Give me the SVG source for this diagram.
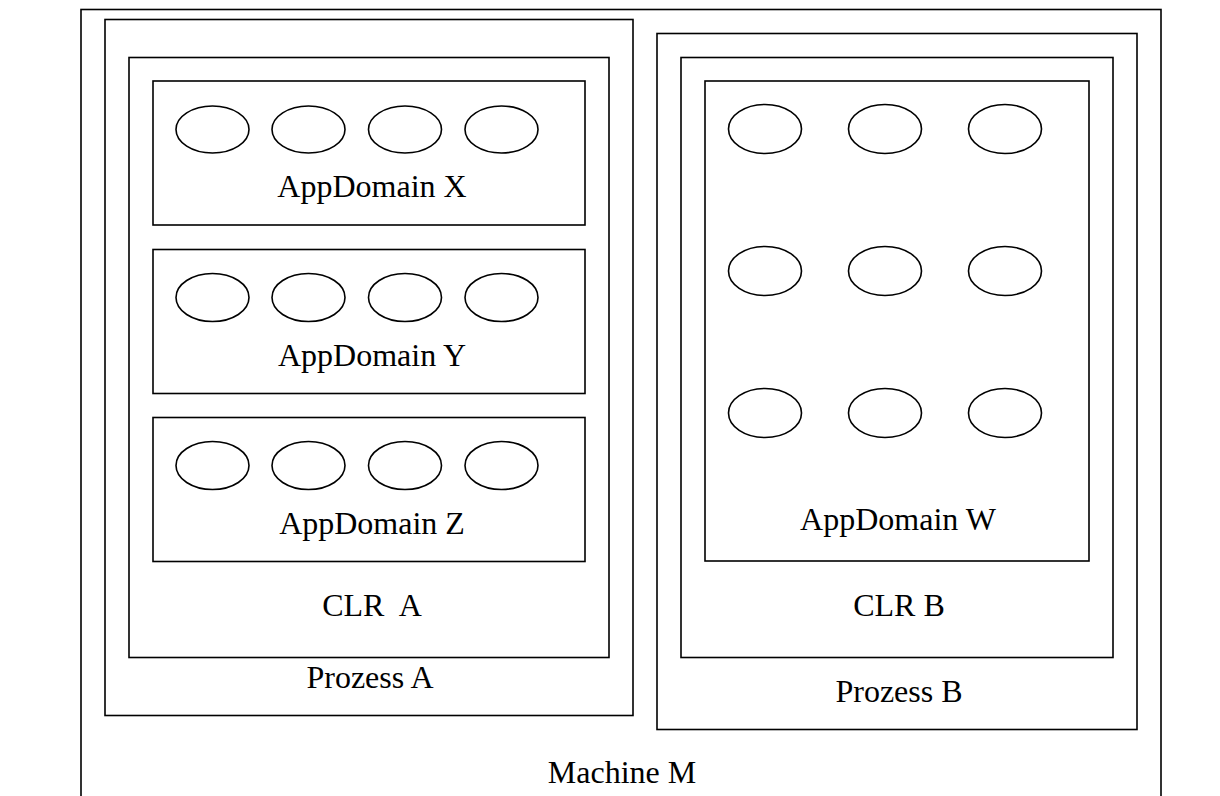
<svg xmlns="http://www.w3.org/2000/svg" width="1220" height="796" viewBox="0 0 1220 796">
<style>
rect, ellipse { fill: none; stroke: #000; stroke-width: 1.6; }
text { font-family: "Liberation Serif", "Times New Roman", serif; font-size: 32px; fill: #000; text-anchor: middle; }
</style>
<rect x="0" y="0" width="1220" height="796" style="fill:#fff;stroke:none"/>
<g id="machine-m">
<rect x="81" y="9.5" width="1080" height="800"/>
<text x="622" y="783">Machine M</text>
</g>
<g id="prozess-a">
<rect x="105" y="19.5" width="528" height="696"/>
<text x="370" y="688">Prozess A</text>
</g>
<g id="clr-a">
<rect x="129" y="57.5" width="480" height="600"/>
<text x="372" y="616" xml:space="preserve">CLR  A</text>
</g>
<g id="appdomain-x">
<rect x="153" y="81" width="432" height="144"/>
<ellipse cx="212.5" cy="129.5" rx="36.5" ry="23.5"/>
<ellipse cx="308.5" cy="129.5" rx="36.5" ry="23.5"/>
<ellipse cx="405" cy="129.5" rx="36.5" ry="23.5"/>
<ellipse cx="501.5" cy="129.5" rx="36.5" ry="23.5"/>
<text x="372" y="197">AppDomain X</text>
</g>
<g id="appdomain-y">
<rect x="153" y="249.5" width="432" height="144"/>
<ellipse cx="212.5" cy="297.5" rx="36.5" ry="24"/>
<ellipse cx="308.5" cy="297.5" rx="36.5" ry="24"/>
<ellipse cx="405" cy="297.5" rx="36.5" ry="24"/>
<ellipse cx="501.5" cy="297.5" rx="36.5" ry="24"/>
<text x="372" y="366">AppDomain Y</text>
</g>
<g id="appdomain-z">
<rect x="153" y="417.5" width="432" height="144"/>
<ellipse cx="212.5" cy="465.5" rx="36.5" ry="24"/>
<ellipse cx="308.5" cy="465.5" rx="36.5" ry="24"/>
<ellipse cx="405" cy="465.5" rx="36.5" ry="24"/>
<ellipse cx="501.5" cy="465.5" rx="36.5" ry="24"/>
<text x="372" y="533.5">AppDomain Z</text>
</g>
<g id="prozess-b">
<rect x="657" y="33.5" width="480" height="696"/>
<text x="899" y="702">Prozess B</text>
</g>
<g id="clr-b">
<rect x="681" y="57.5" width="432" height="600"/>
<text x="899" y="616">CLR B</text>
</g>
<g id="appdomain-w">
<rect x="705" y="81" width="384" height="480"/>
<ellipse cx="765" cy="129" rx="36.5" ry="24.5"/>
<ellipse cx="885" cy="129" rx="36.5" ry="24.5"/>
<ellipse cx="1005" cy="129" rx="36.5" ry="24.5"/>
<ellipse cx="765" cy="271" rx="36.5" ry="24.5"/>
<ellipse cx="885" cy="271" rx="36.5" ry="24.5"/>
<ellipse cx="1005" cy="271" rx="36.5" ry="24.5"/>
<ellipse cx="765" cy="413" rx="36.5" ry="24.5"/>
<ellipse cx="885" cy="413" rx="36.5" ry="24.5"/>
<ellipse cx="1005" cy="413" rx="36.5" ry="24.5"/>
<text x="898" y="529.5">AppDomain W</text>
</g>
<g id="connectors"></g>
</svg>
